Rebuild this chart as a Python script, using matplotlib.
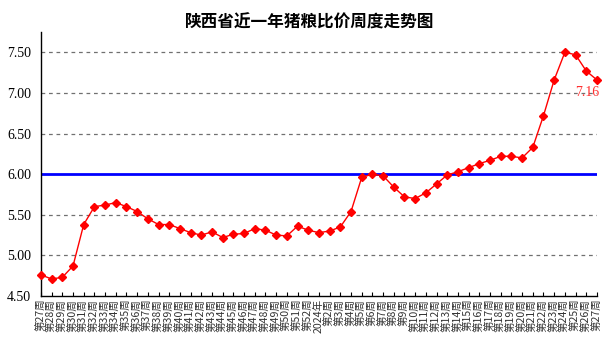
import matplotlib
matplotlib.use("Agg")
import matplotlib.pyplot as plt

plt.rcParams['font.family'] = ['Noto Sans CJK SC', 'DejaVu Sans']

weeks = [f"第{i}周" for i in range(27, 53)] + ["2024年"] + [f"第{i}周" for i in range(2, 28)]
values = [4.76, 4.71, 4.73, 4.87, 5.38, 5.60, 5.62, 5.65, 5.60, 5.54,
          5.45, 5.38, 5.38, 5.33, 5.28, 5.25, 5.29, 5.22, 5.26, 5.27,
          5.33, 5.31, 5.25, 5.24, 5.36, 5.31, 5.28, 5.30, 5.35, 5.54,
          5.96, 6.00, 5.98, 5.84, 5.72, 5.70, 5.77, 5.88, 5.99, 6.03,
          6.08, 6.13, 6.17, 6.22, 6.22, 6.20, 6.33, 6.72, 7.16, 7.50,
          7.47, 7.27, 7.16]
yticks = [4.50, 5.00, 5.50, 6.00, 6.50, 7.00, 7.50]
ytick_labels = ["4.50", "5.00", "5.50", "6.00", "6.50", "7.00", "7.50"]
breakeven = 6.0
title = "陕西省近一年猪粮比价周度走势图"
last_label = "7.16"

fig = plt.figure(figsize=(6.11, 3.44), dpi=100)
ax = fig.add_axes([0.067, 0.1395, 0.910, 0.7675])

x = list(range(len(values)))
for yv in yticks:
    if yv != breakeven and yv != yticks[0]:
        ax.axhline(yv, color='#707070', linestyle=(0, (3, 3)), linewidth=0.9, zorder=1)
ax.axhline(breakeven, color='#0000ff', linewidth=2.0, zorder=2)
ax.plot(x, values, color='#ff0000', linewidth=1.0, marker='D', markersize=4.3,
        markerfacecolor='#ff0000', markeredgecolor='#ff0000', zorder=3, clip_on=False)

ax.annotate(last_label, xy=(x[-1], values[-1]), xytext=(-7, -9), textcoords='offset points',
            color='#ff3030', fontsize=10, family=['Liberation Serif'], ha='center', va='center',
            annotation_clip=False)

ax.set_xlim(0, len(values) - 1)
ax.set_ylim(4.5, 7.75)
ax.set_yticks(yticks)
ax.set_yticklabels(ytick_labels, family=['Liberation Serif'], fontsize=10)
ax.set_xticks(x)
ax.set_xticklabels(weeks, rotation=90, fontsize=7.6, color='#333333')
ax.tick_params(axis='x', direction='in', length=3, width=0.8, pad=2)
ax.tick_params(axis='y', length=0, pad=7)

for s in ['top', 'right']:
    ax.spines[s].set_visible(False)
for s in ['left', 'bottom']:
    ax.spines[s].set_linewidth(1.0)
    ax.spines[s].set_color('black')

fig.text(0.507, 0.935, title, ha='center', va='center', fontsize=12, fontweight='bold')

fig.savefig("out.png", dpi=100)
